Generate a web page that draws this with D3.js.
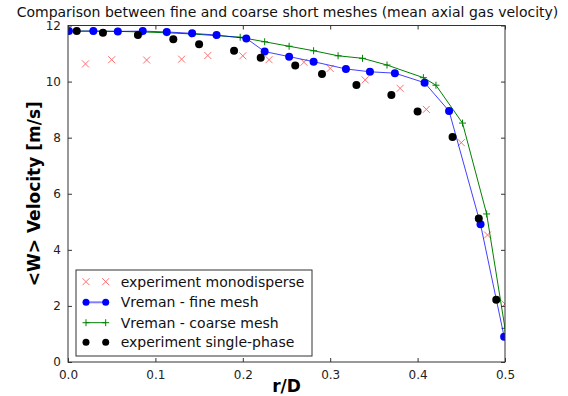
<!DOCTYPE html>
<html>
<head>
<meta charset="utf-8">
<script src="https://cdn.jsdelivr.net/npm/d3@7"></script>
<style>
  body { margin: 0; background: #fff; }
  text { font-family: "DejaVu Sans", sans-serif; }
</style>
</head>
<body>
<div id="chart"></div>
<script>
// experiment monodisperse
var monoR = [0.02, 0.05, 0.09, 0.13, 0.16, 0.20, 0.23, 0.27, 0.30, 0.34, 0.38, 0.41, 0.45, 0.48, 0.50];
var monoW = [10.63, 10.78, 10.77, 10.80, 10.93, 10.92, 10.78, 10.69, 10.47, 10.06, 9.76, 9.01, 7.82, 4.53, 2.07];

// Vreman - fine mesh
var fineR = [0.001, 0.029, 0.057, 0.0855, 0.113, 0.142, 0.170, 0.204, 0.225, 0.253, 0.281, 0.318, 0.3455, 0.374, 0.408, 0.436, 0.472, 0.499];
var fineW = [11.80, 11.80, 11.79, 11.80, 11.77, 11.72, 11.66, 11.54, 11.07, 10.89, 10.71, 10.45, 10.35, 10.30, 9.96, 8.95, 4.91, 0.90];

// Vreman - coarse mesh
var coarseR = [0.0, 0.028, 0.057, 0.085, 0.113, 0.141, 0.169, 0.197, 0.225, 0.253, 0.281, 0.309, 0.337, 0.365, 0.4066, 0.421, 0.4514, 0.479, 0.5];
var coarseW = [11.80, 11.80, 11.79, 11.77, 11.74, 11.70, 11.64, 11.58, 11.42, 11.26, 11.10, 10.92, 10.83, 10.59, 10.14, 9.87, 8.52, 5.28, 1.20];

// experiment single-phase
var singleR = [0.01, 0.04, 0.08, 0.1205, 0.15, 0.19, 0.2205, 0.26, 0.2906, 0.33, 0.37, 0.40, 0.44, 0.47, 0.49];
var singleW = [11.80, 11.74, 11.66, 11.51, 11.33, 11.10, 10.85, 10.57, 10.27, 9.88, 9.52, 8.93, 8.02, 5.12, 2.22];

var xTicks = [0, 0.1, 0.2, 0.3, 0.4, 0.5];
var yTicks = [0, 2, 4, 6, 8, 10, 12];

var legendLabels = ["experiment monodisperse", "Vreman - fine mesh", "Vreman - coarse mesh", "experiment single-phase"];

function zip(r, w) {
    return r.map(function (d, i) { return {r: d, w: w[i]}; });
}

function drawChart() {

    var width = 568,
        height = 396,
        pLeft = 68, pRight = 505, pTop = 25.5, pBottom = 362;

    var x = d3.scaleLinear().domain([0, 0.5]).range([pLeft, pRight]);
    var y = d3.scaleLinear().domain([0, 12]).range([pBottom, pTop]);

    var svg = d3.select("#chart").append("svg")
        .attr("width", width)
        .attr("height", height);

    svg.append("defs").append("clipPath").attr("id", "clip")
        .append("rect")
        .attr("x", pLeft).attr("y", pTop)
        .attr("width", pRight - pLeft).attr("height", pBottom - pTop);

    var plot = svg.append("g").attr("clip-path", "url(#clip)");

    var line = d3.line()
        .x(function (d) { return x(d.r); })
        .y(function (d) { return y(d.w); });

    function xMark(g, cx, cy, s) {
        g.append("path")
            .attr("d", "M" + (cx - s) + "," + (cy - s) + "L" + (cx + s) + "," + (cy + s) +
                "M" + (cx - s) + "," + (cy + s) + "L" + (cx + s) + "," + (cy - s))
            .attr("stroke", "#ff7070").attr("stroke-width", 1).attr("fill", "none");
    }

    function plusMark(g, cx, cy, s) {
        g.append("path")
            .attr("d", "M" + (cx - s) + "," + cy + "L" + (cx + s) + "," + cy +
                "M" + cx + "," + (cy - s) + "L" + cx + "," + (cy + s))
            .attr("stroke", "#008000").attr("stroke-width", 1).attr("fill", "none");
    }

    // red crosses
    zip(monoR, monoW).forEach(function (d) {
        xMark(plot, x(d.r), y(d.w), 3.5);
    });

    // coarse mesh
    plot.append("path")
        .datum(zip(coarseR, coarseW))
        .attr("d", line)
        .attr("fill", "none")
        .attr("stroke", "#008000")
        .attr("stroke-width", 1);
    zip(coarseR, coarseW).forEach(function (d) {
        plusMark(plot, x(d.r), y(d.w), 3.5);
    });

    // fine mesh
    plot.append("path")
        .datum(zip(fineR, fineW))
        .attr("d", line)
        .attr("fill", "none")
        .attr("stroke", "#0000ff")
        .attr("stroke-opacity", 0.75)
        .attr("stroke-width", 1);
    plot.selectAll("circle.fine")
        .data(zip(fineR, fineW))
        .enter().append("circle")
        .attr("class", "fine")
        .attr("cx", function (d) { return x(d.r); })
        .attr("cy", function (d) { return y(d.w); })
        .attr("r", 4)
        .attr("fill", "#0000ff");

    // single phase
    plot.selectAll("circle.single")
        .data(zip(singleR, singleW))
        .enter().append("circle")
        .attr("class", "single")
        .attr("cx", function (d) { return x(d.r); })
        .attr("cy", function (d) { return y(d.w); })
        .attr("r", 4)
        .attr("fill", "#000");

    // axes frame and ticks
    var axisColor = "#333";
    svg.append("rect")
        .attr("x", pLeft).attr("y", pTop)
        .attr("width", pRight - pLeft).attr("height", pBottom - pTop)
        .attr("fill", "none").attr("stroke", axisColor).attr("stroke-width", 1);

    var xAxis = d3.axisBottom(x).tickValues(xTicks).tickFormat(d3.format(".1f")).tickSizeInner(-4).tickSizeOuter(0).tickPadding(8);
    var yAxis = d3.axisLeft(y).tickValues(yTicks).tickFormat(d3.format("d")).tickSizeInner(-4).tickSizeOuter(0).tickPadding(7);

    var gx = svg.append("g").attr("transform", "translate(0," + pBottom + ")").call(xAxis);
    var gy = svg.append("g").attr("transform", "translate(" + pLeft + ",0)").call(yAxis);
    var gxt = svg.append("g").attr("transform", "translate(0," + pTop + ")")
        .call(d3.axisTop(x).tickValues(xTicks).tickFormat("").tickSizeInner(-4).tickSizeOuter(0));
    var gyr = svg.append("g").attr("transform", "translate(" + pRight + ",0)")
        .call(d3.axisRight(y).tickValues(yTicks).tickFormat("").tickSizeInner(-4).tickSizeOuter(0));

    [gx, gy, gxt, gyr].forEach(function (g) {
        g.select(".domain").remove();
        g.selectAll(".tick line").attr("stroke", axisColor);
        g.selectAll(".tick text").attr("font-size", 12).attr("fill", "#222")
            .style("font-family", "DejaVu Sans, sans-serif");
    });

    // title and labels
    svg.append("text")
        .attr("x", (pLeft + pRight) / 2 + 1).attr("y", 17)
        .attr("text-anchor", "middle")
        .attr("font-size", 14)
        .attr("fill", "#111")
        .text("Comparison between fine and coarse short meshes (mean axial gas velocity)");

    svg.append("text")
        .attr("x", (pLeft + pRight) / 2).attr("y", 392)
        .attr("text-anchor", "middle")
        .attr("font-size", 17)
        .attr("font-weight", "bold")
        .text("r/D");

    svg.append("text")
        .attr("transform", "translate(40," + (pTop + pBottom) / 2 + ") rotate(-90)")
        .attr("text-anchor", "middle")
        .attr("font-size", 17)
        .attr("font-weight", "bold")
        .text("<W> Velocity [m/s]");

    // legend
    var lg = svg.append("g");
    lg.append("rect")
        .attr("x", 76).attr("y", 270)
        .attr("width", 236).attr("height", 86)
        .attr("fill", "#fff").attr("stroke", axisColor).attr("stroke-width", 1);

    var rowY = [281.7, 302.3, 322.7, 342.3];
    var m1 = 86, m2 = 105.7;

    xMark(lg, m1, rowY[0], 3.5);
    xMark(lg, m2, rowY[0], 3.5);

    lg.append("line").attr("x1", m1).attr("x2", m2).attr("y1", rowY[1]).attr("y2", rowY[1])
        .attr("stroke", "#0000ff").attr("stroke-opacity", 0.5).attr("stroke-width", 2);
    lg.append("circle").attr("cx", m1).attr("cy", rowY[1]).attr("r", 3.5).attr("fill", "#0000ff");
    lg.append("circle").attr("cx", m2).attr("cy", rowY[1]).attr("r", 3.5).attr("fill", "#0000ff");

    lg.append("line").attr("x1", m1).attr("x2", m2).attr("y1", rowY[2]).attr("y2", rowY[2])
        .attr("stroke", "#008000").attr("stroke-width", 1);
    plusMark(lg, m1, rowY[2], 3.5);
    plusMark(lg, m2, rowY[2], 3.5);

    lg.append("circle").attr("cx", m1).attr("cy", rowY[3]).attr("r", 3.5).attr("fill", "#000");
    lg.append("circle").attr("cx", m2).attr("cy", rowY[3]).attr("r", 3.5).attr("fill", "#000");

    lg.selectAll("text.leg")
        .data(legendLabels)
        .enter().append("text")
        .attr("class", "leg")
        .attr("x", 120.7)
        .attr("y", function (d, i) { return rowY[i]; })
        .attr("dy", "0.35em")
        .attr("font-size", 14)
        .attr("fill", "#111")
        .text(function (d) { return d; });
}

drawChart();
</script>
</body>
</html>
